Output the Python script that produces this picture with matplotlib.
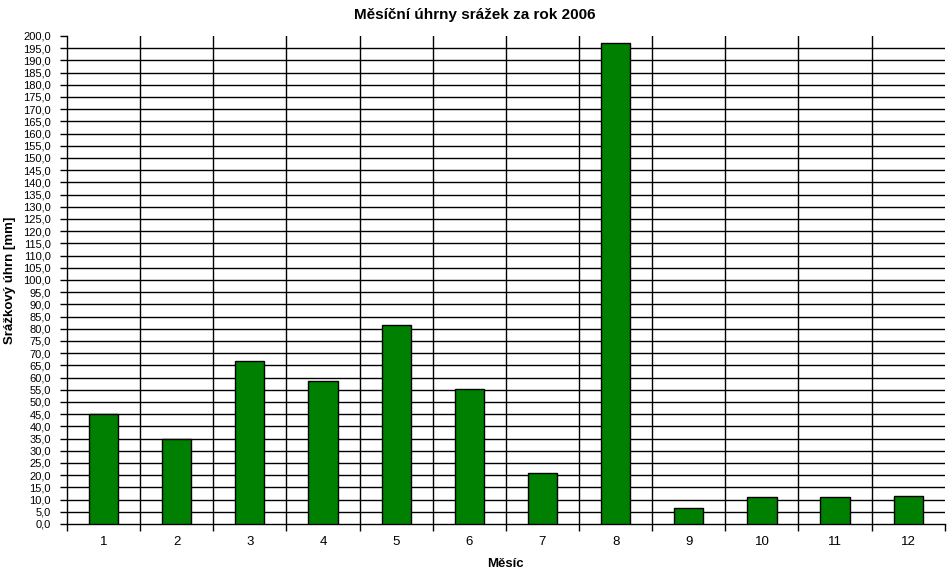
import numpy as np
import matplotlib
matplotlib.use("Agg")
import matplotlib.pyplot as plt
from matplotlib.ticker import FuncFormatter, MultipleLocator

plt.rcParams['font.family'] = ['Liberation Sans', 'DejaVu Sans']

# data
months = ['1', '2', '3', '4', '5', '6', '7', '8', '9', '10', '11', '12']
srazky = [44.9, 34.8, 66.8, 58.6, 81.6, 55.3, 20.9, 197.1, 6.6, 11.1, 11.1, 11.5]

fig = plt.figure(figsize=(9.5, 5.75), dpi=100)
ax = fig.add_axes([0.0705, 0.0887, 0.924, 0.8487])

x = np.arange(1, len(months) + 1)
ax.bar(x, srazky, width=0.4, color='#008000', edgecolor='black', linewidth=1, zorder=3)

ax.set_xlim(0.5, len(months) + 0.5)
ax.set_ylim(0, 200)

# horizontal grid every 5 mm
ax.yaxis.set_major_locator(MultipleLocator(5))
ax.yaxis.set_major_formatter(FuncFormatter(lambda v, p: f"{v:.1f}".replace('.', ',')))
for v in np.arange(5, 200, 5):
    ax.axhline(v, color='black', linewidth=1, zorder=1)

# vertical lines between months
for b in np.arange(1.5, len(months) + 0.5, 1):
    ax.axvline(b, color='black', linewidth=1, zorder=1)

# x ticks: boundaries as tick marks, labels centered
ax.set_xticks(np.arange(0.5, len(months) + 1.5, 1))
ax.set_xticklabels([])
ax.set_xticks(x, minor=True)
ax.set_xticklabels(months, minor=True)
ax.tick_params(axis='x', which='major', direction='out', length=5, width=1)
ax.tick_params(axis='x', which='minor', length=0, pad=9, labelsize=9.5)
ax.tick_params(axis='y', direction='out', length=5, width=1, labelsize=8, pad=6.5)

for s in ['top', 'right']:
    ax.spines[s].set_visible(False)
ax.spines['left'].set_linewidth(1)
ax.spines['bottom'].set_linewidth(1)

# title centred on the figure, not on the axes
ax.set_title('Měsíční úhrny srážek za rok 2006', fontsize=11, fontweight='bold', pad=12, x=0.465)
ax.set_xlabel('Měsíc', fontsize=9.5, fontweight='bold', labelpad=7)
ax.set_ylabel('Srážkový úhrn [mm]', fontsize=9.5, fontweight='bold', labelpad=5)

fig.savefig('out.png', dpi=100)
